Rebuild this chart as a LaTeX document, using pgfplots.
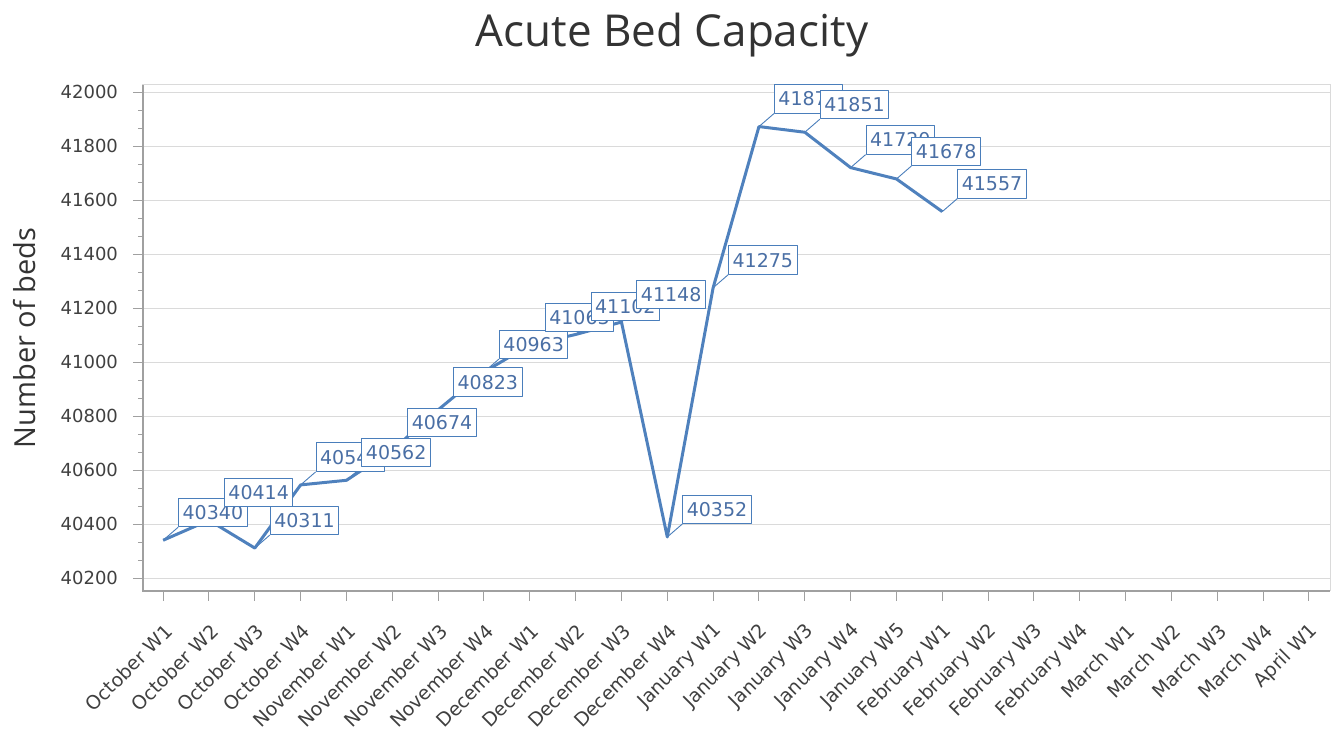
\documentclass[border=0pt]{standalone}
\usepackage{fontspec}
\setmainfont{DejaVu Sans}
\newfontfamily\titlefont{Open Sans}
\usepackage{pgfplots}
\usepackage{pgfplotstable}
\pgfplotsset{compat=1.18}
\definecolor{lineblue}{HTML}{4F81BD}
\definecolor{boxblue}{HTML}{4A7EBB}
\definecolor{txtblue}{HTML}{4A6FA5}
\definecolor{gridgray}{HTML}{DADADA}
\definecolor{axgray}{HTML}{A0A0A0}
\definecolor{ticktext}{HTML}{404040}
\definecolor{titlegray}{HTML}{333333}
\pgfplotstableread{
x y
0 40340
1 40414
2 40311
3 40545
4 40562
5 40674
6 40823
7 40963
8 41063
9 41102
10 41148
11 40352
12 41275
13 41872
14 41851
15 41720
16 41678
17 41557
}\beds
\begin{document}
\begin{tikzpicture}
\begin{axis}[
 scale only axis, width=593.5pt, height=253pt,
 xmin=-0.44, xmax=25.46, ymin=40152, ymax=42026,
 xtick={0,...,25},
 xticklabels={October W1,October W2,October W3,October W4,November W1,November W2,November W3,November W4,December W1,December W2,December W3,December W4,January W1,January W2,January W3,January W4,January W5,February W1,February W2,February W3,February W4,March W1,March W2,March W3,March W4,April W1},
 ytick={40200,40400,...,42000},
 minor y tick num=2,
 ymajorgrids, major grid style={gridgray, line width=0.5pt},
 axis line style={gridgray, line width=0.5pt},
 xtick pos=left, ytick pos=left, tick align=outside,
 major tick length=5pt, minor tick length=2.5pt,
 tick style={axgray, line width=0.5pt},
 /pgf/number format/assume math mode=true,
 /pgf/number format/1000 sep={},
 scaled y ticks=false,
 yticklabel style={font=\fontsize{9}{10}\selectfont, text=ticktext, xshift=-4pt},
 xticklabel style={rotate=45, anchor=east, font=\fontsize{9.5}{10}\selectfont, text=ticktext, yshift=-11.5pt, xshift=-4pt},
 clip=false,
]
\draw[axgray, line width=0.6pt] (rel axis cs:0,1) -- (rel axis cs:0,0) -- (rel axis cs:1,0);
\addplot[boxblue, line width=0.45pt, quiver={u=0.327, v=48.1}] table[x=x, y=y] {\beds};
\addplot[lineblue, line width=1.5pt, line join=round,
  nodes near coords,
  every node near coord/.append style={anchor=south west, xshift=7.5pt, yshift=6.5pt,
    draw=boxblue, fill=white, text=txtblue, font=\fontsize{9.5}{10}\selectfont,
    inner xsep=2pt, inner ysep=3.6pt, text height=7pt, text depth=0pt, line width=0.5pt}
  ] table[x=x, y=y] {\beds};
\node[anchor=base, font=\titlefont\fontsize{22}{26}\selectfont, text=titlegray] at ([xshift=264.5pt, yshift=19pt]rel axis cs:0,1) {Acute Bed Capacity};
\node[rotate=90, anchor=center, font=\titlefont\fontsize{14.5}{16}\selectfont, text=titlegray] at ([xshift=-59pt]rel axis cs:0,0.5) {Number of beds};
\end{axis}
\pgfresetboundingbox
\path (current axis.south west) ++(-71.5pt,-70pt) rectangle ++(666pt,365.5pt);
\end{tikzpicture}
\end{document}
